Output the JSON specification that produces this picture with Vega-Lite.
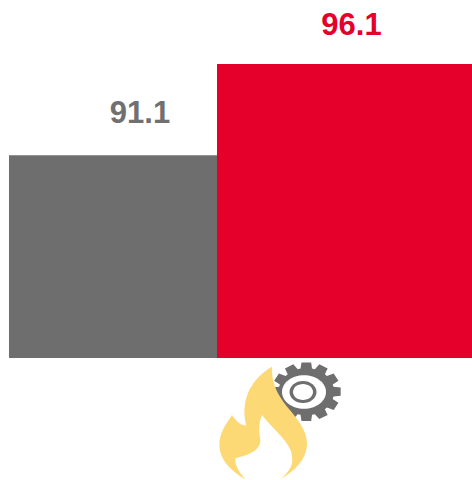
{
"$schema":"https://vega.github.io/schema/vega-lite/v6.json",
"autosize":{"type":"fit","contains":"padding"},
"width":472,"height":480,"padding":0,
"background":"white",
"config":{"view":{"stroke":null}},
"datasets":{
"bars":[
{"group":"A","value":91.1,"start":9,"end":217,"labelAt":140},
{"group":"B","value":96.1,"start":217,"end":472,"labelAt":351.5}],
"gear":[{"part":"gear","at":306.3,"level":78.154}],
"ring":[{"part":"ring","at":304,"level":78.138}],
"core":[{"part":"core","at":303,"level":78.138}],
"flame":[{"part":"flame","at":262,"level":76.605}]
},
"encoding":{},
"layer":[
{"data":{"name":"bars"},"mark":{"type":"rect"},
"encoding":{
"x":{"field":"start","type":"quantitative","scale":{"domain":[0,472],"nice":false,"zero":false},"axis":null},
"x2":{"field":"end"},
"y":{"field":"value","type":"quantitative","scale":{"domain":[73.319,99.606],"nice":false,"zero":false},"axis":null},
"y2":{"datum":80},
"color":{"field":"group","type":"nominal","scale":{"domain":["A","B"],"range":["#6E6E6E","#E4002B"]},"legend":null}}},
{"data":{"name":"bars"},"transform":[{"filter":"datum.group==='A'"}],
"mark":{"type":"text","font":"Liberation Sans","fontWeight":"bold","fontSize":31,"align":"center","baseline":"alphabetic","dy":-32,"color":"#707070"},
"encoding":{"x":{"field":"labelAt","type":"quantitative"},"y":{"field":"value","type":"quantitative"},"text":{"field":"value","type":"quantitative","format":".1f"}}},
{"data":{"name":"bars"},"transform":[{"filter":"datum.group==='B'"}],
"mark":{"type":"text","font":"Liberation Sans","fontWeight":"bold","fontSize":31,"align":"center","baseline":"alphabetic","dy":-29,"color":"#E4002B"},
"encoding":{"x":{"field":"labelAt","type":"quantitative"},"y":{"field":"value","type":"quantitative"},"text":{"field":"value","type":"quantitative","format":".1f"}}},
{"data":{"name":"gear"},
"mark":{"type":"point","filled":true,"opacity":1,"color":"#6E6E6E","size":4816,"shape":"M.990,.118L.783,.141L.761,.210L.927,.319L.788,.524L.595,.455L.535,.506L.616,.671L.375,.789L.247,.648L.166,.666L.139,.842L-.139,.842L-.166,.666L-.247,.648L-.375,.789L-.616,.671L-.535,.506L-.595,.455L-.788,.524L-.927,.319L-.761,.210L-.783,.141L-.990,.118L-.990,-.118L-.783,-.141L-.761,-.210L-.927,-.319L-.788,-.524L-.595,-.455L-.535,-.506L-.616,-.671L-.375,-.789L-.247,-.648L-.166,-.666L-.139,-.842L.139,-.842L.166,-.666L.247,-.648L.375,-.789L.616,-.671L.535,-.506L.595,-.455L.788,-.524L.927,-.319L.761,-.210L.783,-.141L.990,-.118Z"},
"encoding":{"x":{"field":"at","type":"quantitative"},"y":{"field":"level","type":"quantitative"}}},
{"data":{"name":"ring"},
"mark":{"type":"point","filled":true,"opacity":1,"color":"#FFFFFF","size":1936,"shape":"M-1,0A1,.76 0 1 0 1,0A1,.76 0 1 0 -1,0Z"},
"encoding":{"x":{"field":"at","type":"quantitative"},"y":{"field":"level","type":"quantitative"}}},
{"data":{"name":"core"},
"mark":{"type":"point","filled":true,"opacity":1,"color":"#6E6E6E","size":729,"shape":"M-1,0A1,.82 0 1 0 1,0A1,.82 0 1 0 -1,0Z"},
"encoding":{"x":{"field":"at","type":"quantitative"},"y":{"field":"level","type":"quantitative"}}},
{"data":{"name":"core"},
"mark":{"type":"point","filled":true,"opacity":1,"color":"#FFFFFF","size":400,"shape":"M-1,0A1,.8 0 1 0 1,0A1,.8 0 1 0 -1,0Z"},
"encoding":{"x":{"field":"at","type":"quantitative"},"y":{"field":"level","type":"quantitative"}}},
{"data":{"name":"flame"},
"mark":{"type":"point","filled":true,"opacity":1,"color":"#FDD975","size":14400,"shape":"M.167,-.889C.156,-.611,.25,-.444,.417,-.222C.583,-.028,.75,.167,.75,.389C.75,.667,.528,.861,.306,.989C.417,.889,.528,.778,.5,.611C.5,.389,.167,.139,0,-.083C-.056,.056,-.056,.167,-.028,.333C-.028,.528,-.25,.583,-.444,.639C-.456,.778,-.361,.889,-.278,.989C-.5,.861,-.711,.667,-.711,.417C-.711,.222,-.611,.083,-.5,-.083C-.444,0,-.361,.094,-.261,.094C-.361,-.278,-.222,-.667,.167,-.889Z"},
"encoding":{"x":{"field":"at","type":"quantitative"},"y":{"field":"level","type":"quantitative"}}}
]
}
